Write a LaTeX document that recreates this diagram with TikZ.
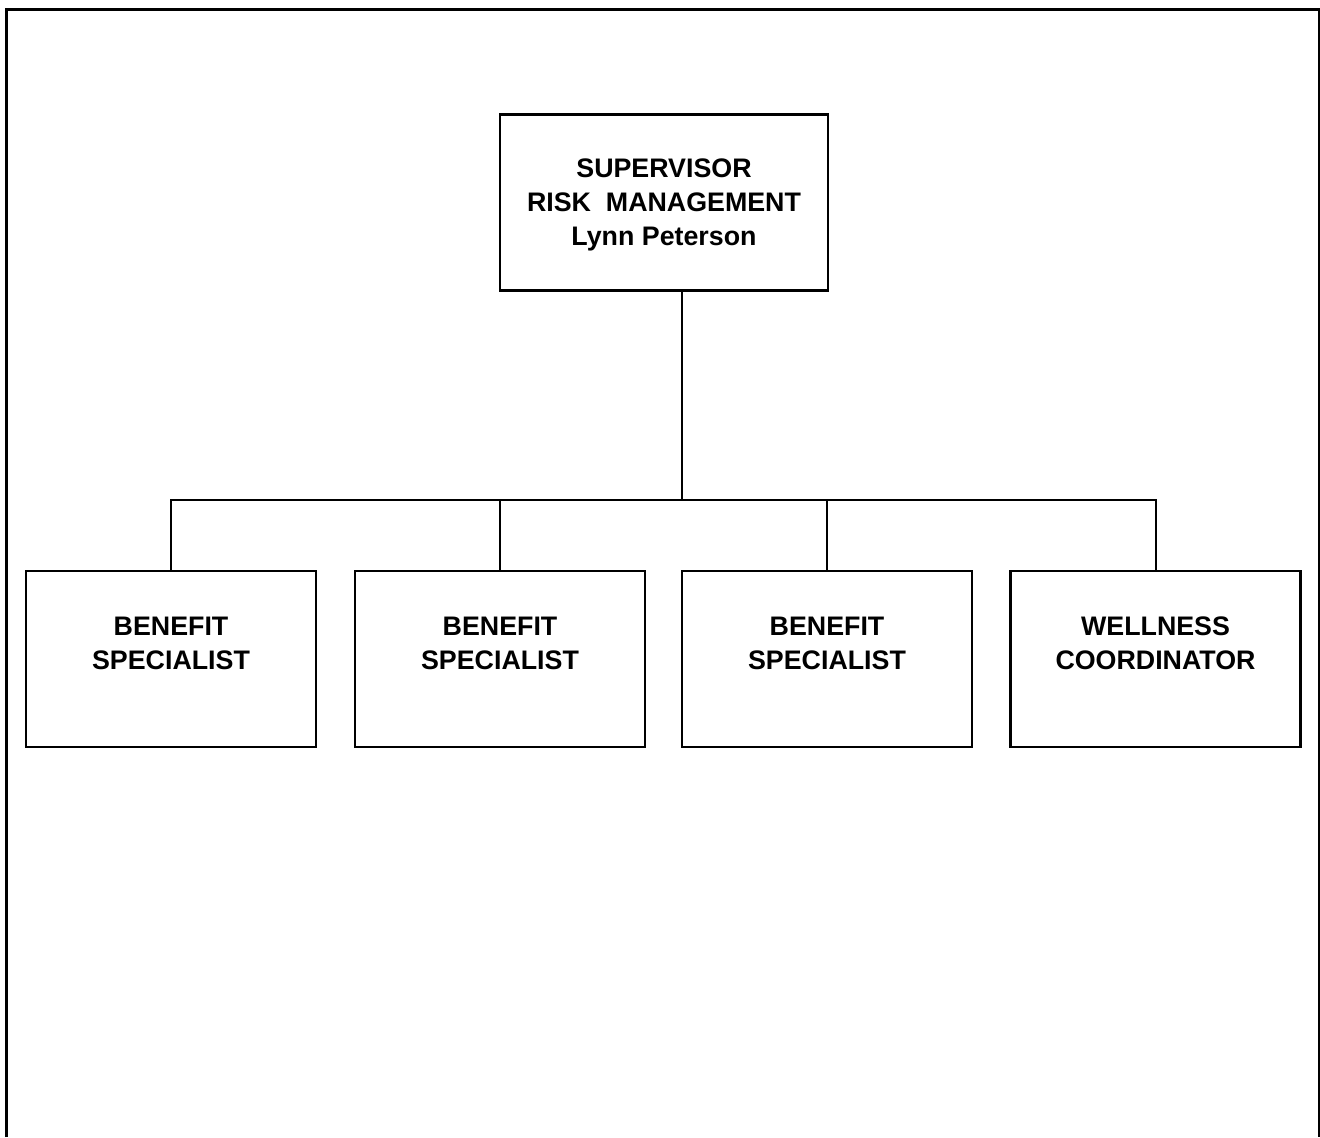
\documentclass[tikz,border=0pt]{standalone}
\usepackage{fontspec}
\setmainfont{Liberation Sans}
\usetikzlibrary{positioning}

\tikzset{
  unitbox/.style={draw, line width=1.2pt, minimum width=145pt, minimum height=88pt, inner sep=0pt},
  unittext/.style={align=center, font=\bfseries\fontsize{13.4}{17}\selectfont},
  link/.style={draw, line width=1pt}
}

\begin{document}
\begin{tikzpicture}[x=0.5pt, y=-0.5pt]
        \useasboundingbox (0,0) rectangle (1320,1137);

        % Frame
        \draw[line width=1.5pt] (6,1137) -- (6,9) -- (1319,9) -- (1319,1137);

        % Nodes
        \node[unitbox, minimum width=164pt] (sup) at (664,202.5) {};
        \node[unittext] (suptext) at ([yshift=-1pt]sup.center) {SUPERVISOR\\ RISK\ \ MANAGEMENT\\Lynn Peterson};

        \node[unitbox] (ben1) at (171,659) {};
        \node[unitbox] (ben2) at (500,659) {};
        \node[unitbox] (ben3) at (827,659) {};
        \node[unitbox] (well) at (1155.5,659) {};

        \node[unittext] (ben1text) at ([yshift=8pt]ben1.center) {BENEFIT\\SPECIALIST};
        \node[unittext] (ben2text) at ([yshift=8pt]ben2.center) {BENEFIT\\SPECIALIST};
        \node[unittext] (ben3text) at ([yshift=8pt]ben3.center) {BENEFIT\\SPECIALIST};
        \node[unittext] (welltext) at ([yshift=8pt]well.center) {WELLNESS\\COORDINATOR};

        % Lines
        \coordinate (drop) at (682,291);
        \coordinate (bus) at (682,500);
        \draw[link] (drop) -- (bus);
        \draw[link] (ben1.north) |- (bus) -| (well.north);
        \draw[link] (ben2.north) -- (ben2.north |- bus);
        \draw[link] (ben3.north) -- (ben3.north |- bus);
    \end{tikzpicture}
\end{document}
